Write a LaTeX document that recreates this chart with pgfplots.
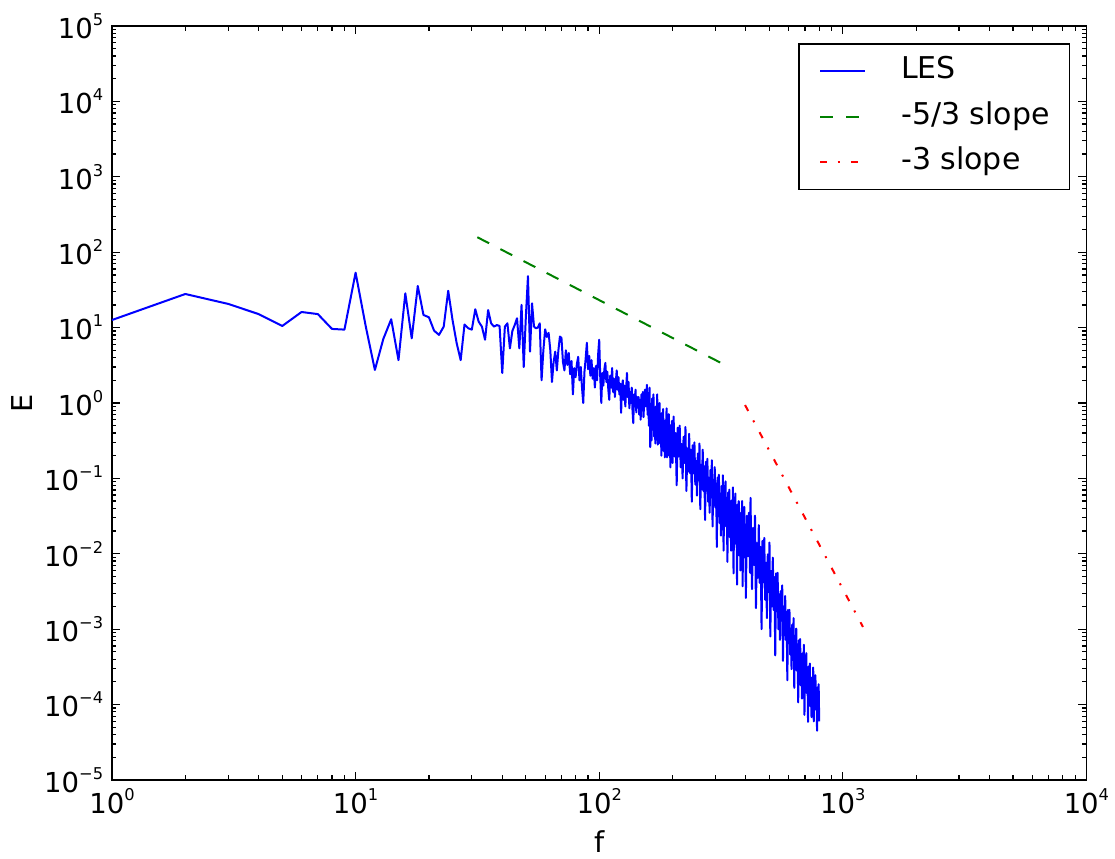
\documentclass[border=0pt]{standalone}
\usepackage{fontspec}
\setmainfont{DejaVu Sans}
\usepackage{pgfplots}
\pgfplotsset{compat=1.18}
\definecolor{mplblue}{RGB}{0,0,255}
\definecolor{mplgreen}{RGB}{0,128,0}
\definecolor{mplred}{RGB}{255,0,0}
\newcommand{\tp}[1]{10\raisebox{5.2pt}{\fontsize{6.5}{7}\selectfont #1}}

\begin{document}
\begin{tikzpicture}
\useasboundingbox (-44.8pt,-31.6pt) rectangle (401.24pt,312pt);
\begin{axis}[
  at={(0pt,0pt)}, anchor=south west,
  scale only axis, width=389.8pt, height=301.6pt,
  xmode=log, ymode=log,
  xmin=1, xmax=10000, ymin=1e-5, ymax=1e5,
  xtick={1,10,100,1000,10000},
  xticklabels={\tp{0},\tp{1},\tp{2},\tp{3},\tp{4}},
  ytick={1e-5,1e-4,1e-3,1e-2,1e-1,1,10,100,1000,10000,100000},
  yticklabels={\tp{−5},\tp{−4},\tp{−3},\tp{−2},\tp{−1},\tp{0},\tp{1},\tp{2},\tp{3},\tp{4},\tp{5}},
  minor xtick={2,3,4,5,6,7,8,9,20,30,40,50,60,70,80,90,200,300,400,500,600,700,800,900,2000,3000,4000,5000,6000,7000,8000,9000},
  minor ytick={2e-5,3e-5,4e-5,5e-5,6e-5,7e-5,8e-5,9e-5,
    2e-4,3e-4,4e-4,5e-4,6e-4,7e-4,8e-4,9e-4,
    2e-3,3e-3,4e-3,5e-3,6e-3,7e-3,8e-3,9e-3,
    0.02,0.03,0.04,0.05,0.06,0.07,0.08,0.09,
    0.2,0.3,0.4,0.5,0.6,0.7,0.8,0.9,
    2,3,4,5,6,7,8,9,20,30,40,50,60,70,80,90,
    200,300,400,500,600,700,800,900,
    2000,3000,4000,5000,6000,7000,8000,9000,
    20000,30000,40000,50000,60000,70000,80000,90000},
  tick align=inside,
  major tick length=3.3pt, minor tick length=1.8pt,
  tick style={line width=0.5pt, black},
  axis line style={line width=0.7pt},
  tick label style={font=\fontsize{11}{13}\selectfont},
  xlabel={f}, ylabel={E},
  label style={font=\fontsize{11.5}{13}\selectfont},
  xlabel style={at={(axis description cs:0.5,-0.0822)}, anchor=center},
  ylabel style={at={(axis description cs:-0.0924,0.5)}, anchor=center},
  legend style={at={(axis description cs:1,1)}, anchor=north east,
    xshift=-6.4pt, yshift=-6.8pt, draw=black, line width=0.6pt, fill=white,
    inner xsep=8pt, inner ysep=5pt, row sep=6.2pt,
    font=\fontsize{12}{14}\selectfont,
    nodes={inner sep=0pt, text height=9pt, text depth=3pt},
    /tikz/every odd column/.append style={column sep=14pt}},
  legend cell align=left,
  legend image code/.code={\draw[#1, line width=0.8pt] (0pt,0pt) -- (18pt,0pt);},
]
\addplot[mplblue, line width=0.8pt, line join=round, no markers] coordinates {
(1,12.6)(2,27.9)(3,20.6)(4,15.1)(5,10.5)(6,16.1)(7,15.1)(8,9.6)(9,9.4)(10,53.5)
(11,10.5)(12,2.74)(13,7.1)(14,12.9)(15,3.7)(16,28.5)(17,7.2)(18,35.6)(19,14.7)(20,13.7)
(21,9.1)(22,8.0)(23,10.3)(24,30.8)(25,12.6)(26,6.2)(27,3.7)(28,11.0)(29,9.8)(30,9.4)
(31,17.5)(32,12)(33,10.3)(34,6.9)(35,17.1)(36,11.4)(37,10.3)(38,10.8)(39,10.5)(40,2.5)
(41,10.3)(42,11.4)(43,5.3)(44,9)(45,10.8)(46,13.3)(47,5.3)(48,20)(49,3.0)(50,14)
(51,48)(52,4.8)(53,21)(54,10.3)(55,9.8)(56,10)(57,11.4)(58,2.0)(59,5)(60,9.5)
(61,7.5)(62,8.5)(63,5)(64,1.9)(65,3.5)(66,4.8)(67,2.7)(68,5)(69,7.6)
(70,7.3)(71,3.5)(72,2.7)(73,5.0)(74,3.2)(75,4.6)(76,2.4)(77,3.6)(78,1.3)(79,2.9)
(80,2.2)(81,3.3)(82,4.1)(83,2.0)(84,3.0)(85,1.6)(86,1.0)(87,2.6)(88,3.9)(89,6.3)
(90,2.8)(91,4.2)(92,2.3)(93,3.7)(94,2.1)(95,2.9)(96,1.6)(97,3.1)(98,2.0)(99,4.4)
(100,6.9)(101,2.2)(102,1.0)(103,2.5)(104,1.7)(105,2.8)(106,3.4)(107,1.9)(108,2.6)(109,1.5)
(110,1.1)(111,2.3)(112,1.6)(113,2.9)(114,1.4)(115,2.1)(116,1.2)(117,1.9)(118,2.7)(119,1.5)
(120,2.2)(121,1.3)(122,1.8)(123,0.74)(124,1.6)(125,2.0)(126,1.1)(127,1.7)(128,0.9)(129,1.5)
(130,2.5)(131,1.2)(132,1.9)(133,0.85)(134,1.4)(135,1.0)(136,1.6)(137,0.8)(138,0.54)(139,1.3)
(140,0.9)(141,1.5)(142,0.75)(143,1.2)(144,0.95)(145,1.2)(146,0.7)(147,1.1)(148,0.6)(149,1.3)
(150,0.8)(151,1.4)(152,0.65)(153,1.05)(154,1.5)(155,0.9)(156,1.2)(157,1.74)(158,0.7)(159,1.1)
(160,0.5)(161,1.6)(162,0.26)(163,0.93)(164,0.32)(165,1.15)(166,0.58)(167,1.3)(168,0.36)(169,0.68)
(170,0.29)(171,0.9)(172,0.42)(173,1.3)(174,0.28)(175,0.88)(176,0.35)(177,1.0)(178,0.29)(179,0.6)
(180,0.2)(181,0.74)(182,0.37)(183,0.83)(184,0.23)(185,0.45)(186,0.19)(187,0.59)(188,0.27)(189,0.85)
(190,0.19)(191,0.42)(192,0.23)(193,0.71)(194,0.2)(195,0.42)(196,0.14)(197,0.51)(198,0.26)(199,0.58)
(200,0.16)(202,0.66)(204,0.195)(206,0.40)(208,0.081)(210,0.47)(212,0.195)(214,0.50)(216,0.14)(218,0.285)
(220,0.10)(222,0.355)(224,0.16)(226,0.48)(228,0.068)(230,0.25)(232,0.123)(234,0.39)(236,0.117)(238,0.24)
(240,0.049)(242,0.275)(244,0.117)(246,0.30)(248,0.083)(250,0.17)(252,0.059)(254,0.214)(256,0.095)(258,0.29)
(260,0.039)(262,0.151)(264,0.072)(266,0.24)(268,0.068)(270,0.144)(272,0.028)(274,0.166)(276,0.069)(278,0.182)
(280,0.049)(282,0.102)(284,0.035)(286,0.129)(288,0.056)(290,0.174)(292,0.023)(294,0.091)(296,0.044)(298,0.141)
(300,0.041)(302,0.085)(304,0.0123)(306,0.102)(308,0.038)(310,0.112)(312,0.0257)(314,0.063)(316,0.0174)(318,0.079)
(320,0.032)(322,0.11)(324,0.011)(326,0.057)(328,0.0245)(330,0.091)(332,0.023)(334,0.055)(336,0.0078)(338,0.065)
(340,0.0245)(342,0.071)(344,0.0166)(346,0.041)(348,0.011)(350,0.051)(352,0.019)(354,0.076)(356,0.0055)(358,0.038)
(360,0.0141)(362,0.063)(364,0.0135)(366,0.037)(368,0.0039)(370,0.045)(372,0.0148)(374,0.050)(376,0.0095)(378,0.027)
(380,0.006)(382,0.035)(384,0.0126)(386,0.050)(388,0.0037)(390,0.025)(392,0.0093)(394,0.042)(396,0.0089)(398,0.0245)
(400,0.0026)(404,0.032)(408,0.0093)(412,0.035)(416,0.0056)(418,0.055)(420,0.0166)(424,0.0034)(428,0.022)(432,0.0071)
(436,0.032)(440,0.0019)(444,0.0138)(448,0.0048)(452,0.024)(456,0.0041)(460,0.0123)(464,0.001)(468,0.0148)(472,0.0042)
(476,0.0162)(480,0.00245)(484,0.0076)(488,0.0014)(492,0.0098)(496,0.0031)(500,0.0141)(504,0.0008)(508,0.0059)(512,0.002)
(516,0.0089)(520,0.0018)(524,0.0049)(528,0.00045)(532,0.0055)(536,0.00174)(540,0.0056)(544,0.001)(548,0.0029)(552,0.00072)
(556,0.0032)(560,0.0013)(564,0.0038)(568,0.00038)(572,0.002)(576,0.00083)(580,0.00275)(584,0.00072)(588,0.0017)(592,0.00021)
(596,0.0018)(600,0.00066)(604,0.0018)(608,0.00046)(612,0.00102)(616,0.000295)(620,0.00115)(624,0.00049)(628,0.0014)(632,0.000166)
(636,0.00074)(640,0.00032)(644,0.00102)(648,0.00028)(652,0.00063)(656,0.000107)(660,0.00071)(664,0.00027)(668,0.00074)(672,0.00018)
(676,0.00039)(680,0.00012)(684,0.00048)(688,0.000195)(692,0.00062)(696,0.000073)(700,0.00031)(704,0.000155)(708,0.00048)(712,0.000141)
(716,0.00028)(720,0.000059)(724,0.00032)(728,0.000132)(732,0.00035)(736,0.000095)(740,0.000186)(744,0.000068)(748,0.00023)(752,0.000115)
(756,0.00031)(760,0.00006)(764,0.000158)(768,0.000091)(772,0.000245)(776,0.000085)(780,0.000148)(784,0.000045)(788,0.00017)(792,0.000079)
(796,0.000186)(800,0.00006)
};
\addlegendentry{LES}
\addplot[mplgreen, line width=0.8pt, line cap=butt, dash pattern=on 5.3pt off 5.1pt] coordinates {(31.6,158) (316,3.4)};
\addlegendentry{-5/3 slope}
\addplot[mplred, line width=0.8pt, line cap=butt, dash pattern=on 2.7pt off 4.3pt on 0.8pt off 4.5pt] coordinates {(397,0.94) (1210,0.00107)};
\addlegendentry{-3 slope}
\end{axis}
\end{tikzpicture}
\end{document}
